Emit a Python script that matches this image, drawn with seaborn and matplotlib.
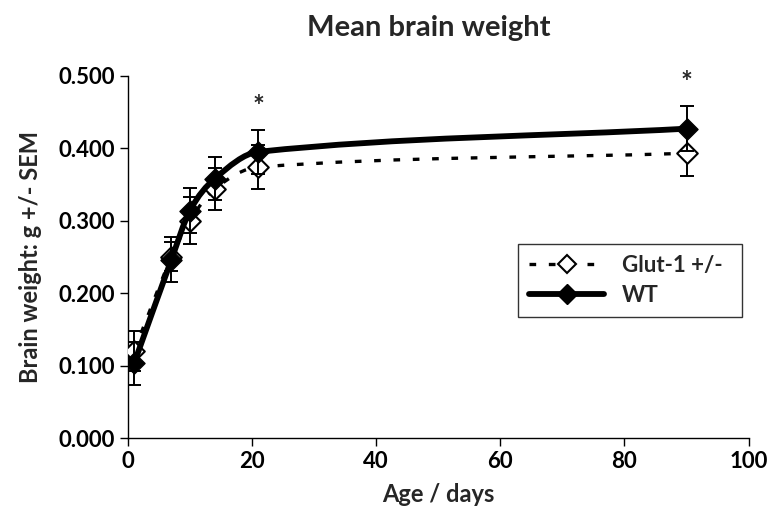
import numpy as np
import pandas as pd
import seaborn as sns
import matplotlib.pyplot as plt
from matplotlib.path import Path
from matplotlib.patches import PathPatch
from matplotlib.lines import Line2D

# data
age = [1, 7, 10, 14, 21, 90]
wt_mean = [0.103, 0.246, 0.314, 0.358, 0.395, 0.427]
wt_sem = [0.030, 0.031, 0.031, 0.030, 0.030, 0.031]
glut_mean = [0.120, 0.250, 0.300, 0.344, 0.374, 0.393]
glut_sem = [0.028, 0.020, 0.032, 0.029, 0.030, 0.032]
star_age = [21, 90]
star_y = [0.457, 0.490]

sns.set_style('white')
plt.rcParams['font.family'] = ['Lato', 'DejaVu Sans']
plt.rcParams['font.weight'] = 'bold'

df = pd.DataFrame({'age': age * 2,
                   'mean': wt_mean + glut_mean,
                   'sem': wt_sem + glut_sem,
                   'group': ['WT'] * len(age) + ['Glut-1 +/-'] * len(age)})


def smooth_path(x, y):
    # excel-like smoothed line: cubic hermite pieces drawn as bezier curves
    x = np.asarray(x, float)
    y = np.asarray(y, float)
    n = len(x)
    m = np.zeros(n)
    m[0] = (y[1] - y[0]) / (x[1] - x[0])
    m[-1] = (y[-1] - y[-2]) / (x[-1] - x[-2])
    for i in range(1, n - 1):
        m[i] = (y[i + 1] - y[i - 1]) / (x[i + 1] - x[i - 1])
    verts = [(x[0], y[0])]
    codes = [Path.MOVETO]
    for i in range(n - 1):
        h = x[i + 1] - x[i]
        verts += [(x[i] + h / 3, y[i] + m[i] * h / 3),
                  (x[i + 1] - h / 3, y[i + 1] - m[i + 1] * h / 3),
                  (x[i + 1], y[i + 1])]
        codes += [Path.CURVE4] * 3
    return Path(verts, codes)


fig, ax = plt.subplots(figsize=(7.75, 5.19), dpi=100)
fig.subplots_adjust(left=0.165, right=0.966, top=0.854, bottom=0.156)

dash = (0, (2, 3.8))

# Glut-1 +/- (dashed, open diamonds)
g = df[df['group'] == 'Glut-1 +/-']
ax.add_patch(PathPatch(smooth_path(g['age'], g['mean']), fill=False,
                       edgecolor='black', lw=2.4, linestyle=dash, zorder=2))
ax.errorbar(g['age'], g['mean'], yerr=g['sem'], fmt='none', ecolor='black',
            elinewidth=1.4, capsize=5, capthick=1.4, zorder=3)
sns.scatterplot(data=g, x='age', y='mean', marker='D', s=110, color='white',
                edgecolor='black', linewidth=1.5, ax=ax, zorder=4, legend=False)

# WT (thick solid, filled diamonds)
w = df[df['group'] == 'WT']
ax.add_patch(PathPatch(smooth_path(w['age'], w['mean']), fill=False,
                       edgecolor='black', lw=4.2, zorder=5))
ax.errorbar(w['age'], w['mean'], yerr=w['sem'], fmt='none', ecolor='black',
            elinewidth=1.4, capsize=5, capthick=1.4, zorder=5)
sns.scatterplot(data=w, x='age', y='mean', marker='D', s=115, color='black',
                edgecolor='black', linewidth=1, ax=ax, zorder=6, legend=False)

for xs, ys in zip(star_age, star_y):
    ax.text(xs, ys, '*', ha='center', va='center', fontsize=20, fontweight='bold')

ax.set_xlim(0, 100)
ax.set_ylim(0, 0.5)
ax.set_xticks(range(0, 101, 20))
ax.set_yticks(np.arange(0, 0.501, 0.1))
ax.set_yticklabels([f'{v:.3f}' for v in np.arange(0, 0.501, 0.1)])
ax.tick_params(axis='both', direction='out', length=6, width=1, labelsize=16,
               left=True, bottom=True, colors='black')
for lab in ax.get_xticklabels() + ax.get_yticklabels():
    lab.set_fontweight('bold')
ax.spines['top'].set_visible(False)
ax.spines['right'].set_visible(False)
for s in ['left', 'bottom']:
    ax.spines[s].set_color('black')
    ax.spines[s].set_linewidth(1)

ax.set_xlabel('Age / days', fontsize=17, fontweight='bold', labelpad=8)
ax.set_ylabel('Brain weight: g +/- SEM', fontsize=17, fontweight='bold', labelpad=12)
fig.text(0.553, 0.946, 'Mean brain weight', ha='center', va='center',
         fontsize=21, fontweight='bold')

handles = [Line2D([], [], color='black', lw=2.4, linestyle=dash, marker='D',
                  markersize=9, markerfacecolor='white', markeredgecolor='black',
                  markeredgewidth=1.5),
           Line2D([], [], color='black', lw=4.2, marker='D', markersize=10,
                  markerfacecolor='black', markeredgecolor='black')]
leg = ax.legend(handles, ['Glut-1 +/-', 'WT'], loc='lower left',
                bbox_to_anchor=(0.628, 0.334, 0.361, 0.205), mode='expand',
                borderaxespad=0, fontsize=16, handlelength=3.4, frameon=True,
                fancybox=False, edgecolor='black', borderpad=0.5, labelspacing=0.4)
leg.get_frame().set_linewidth(1)
for t in leg.get_texts():
    t.set_fontweight('bold')

fig.savefig('out.png', dpi=100)
